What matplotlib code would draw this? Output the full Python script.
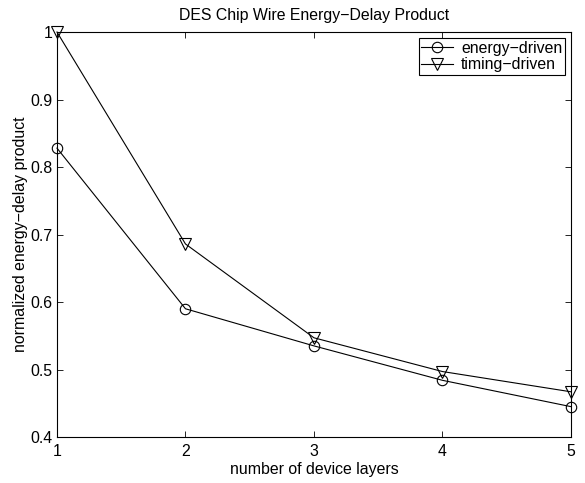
import matplotlib
matplotlib.use("Agg")
import matplotlib.pyplot as plt

plt.rcParams['font.family'] = ['Liberation Sans', 'DejaVu Sans']

layers = [1, 2, 3, 4, 5]
energy_driven = [0.828, 0.590, 0.535, 0.484, 0.445]
timing_driven = [1.000, 0.686, 0.547, 0.497, 0.467]

fs = 11.4

fig = plt.figure(figsize=(5.85, 4.83), dpi=100)
ax = fig.add_axes([0.0974, 0.0952, 0.8786, 0.8385])

ax.plot(layers, energy_driven, color="black", lw=0.8, marker="o", ms=7.5,
        mfc="none", mec="black", mew=0.8, label="energy\u2212driven", clip_on=False)
ax.plot(layers, timing_driven, color="black", lw=0.8, marker="v", ms=8.5,
        mfc="none", mec="black", mew=0.8, label="timing\u2212driven", clip_on=False)

ax.set_xlim(1, 5)
ax.set_ylim(0.4, 1.0)
ax.set_xticks(layers)
ax.set_yticks([0.4, 0.5, 0.6, 0.7, 0.8, 0.9, 1.0])
ax.set_yticklabels(["0.4", "0.5", "0.6", "0.7", "0.8", "0.9", "1"])
ax.tick_params(direction="in", top=True, right=True, labelsize=fs, length=4, width=0.6)
ax.tick_params(axis="x", pad=5)
ax.tick_params(axis="y", pad=3)
for s in ax.spines.values():
    s.set_linewidth(0.8)

ax.set_title("DES Chip Wire Energy\u2212Delay Product", fontsize=fs, pad=9)
ax.set_xlabel("number of device layers", fontsize=fs, labelpad=2)
ax.set_ylabel("normalized energy\u2212delay product", fontsize=fs, labelpad=2)

leg = ax.legend(loc="upper right", fontsize=fs, fancybox=False, framealpha=1,
                edgecolor="black", borderaxespad=0.4, handlelength=2.0,
                borderpad=0.15, labelspacing=0.1, handletextpad=0.5)
leg.get_frame().set_linewidth(0.8)

fig.savefig("out.png", dpi=100)
